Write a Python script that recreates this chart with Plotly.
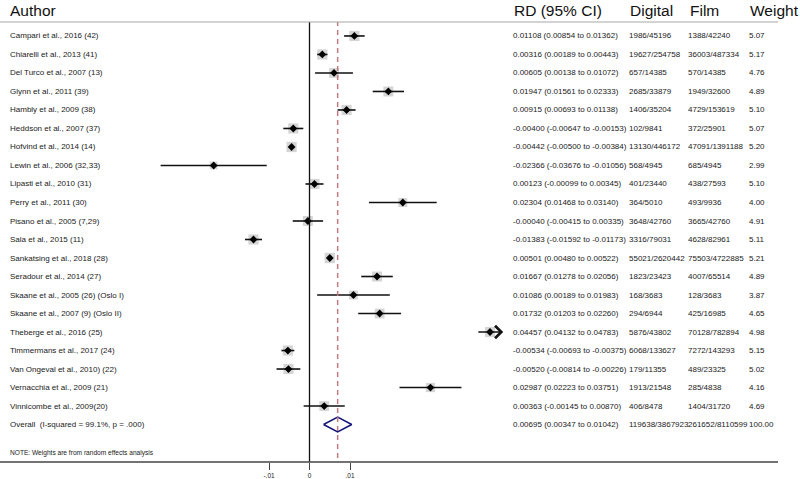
import plotly.graph_objects as go

authors = [
    "Campari et al., 2016 (42)", "Chiarelli et al., 2013 (41)", "Del Turco et al., 2007 (13)",
    "Glynn et al., 2011 (39)", "Hambly et al., 2009 (38)", "Heddson et al., 2007 (37)",
    "Hofvind et al., 2014 (14)", "Lewin et al., 2006 (32,33)", "Lipasti et al., 2010 (31)",
    "Perry et al., 2011 (30)", "Pisano et al., 2005 (7,29)", "Sala et al., 2015 (11)",
    "Sankatsing et al., 2018 (28)", "Seradour et al., 2014 (27)", "Skaane et al., 2005 (26) (Oslo I)",
    "Skaane et al., 2007 (9) (Oslo II)", "Theberge et al., 2016 (25)", "Timmermans et al., 2017 (24)",
    "Van Ongeval et al., 2010) (22)", "Vernacchia et al., 2009 (21)", "Vinnicombe et al., 2009(20)",
]
rd = [0.01108, 0.00316, 0.00605, 0.01947, 0.00915, -0.00400, -0.00442, -0.02366, 0.00123,
      0.02304, -0.00040, -0.01383, 0.00501, 0.01667, 0.01086, 0.01732, 0.04457, -0.00534,
      -0.00520, 0.02987, 0.00363]
lo = [0.00854, 0.00189, 0.00138, 0.01561, 0.00693, -0.00647, -0.00500, -0.03676, -0.00099,
      0.01468, -0.00415, -0.01592, 0.00480, 0.01278, 0.00189, 0.01203, 0.04132, -0.00693,
      -0.00814, 0.02223, -0.00145]
hi = [0.01362, 0.00443, 0.01072, 0.02333, 0.01138, -0.00153, -0.00384, -0.01056, 0.00345,
      0.03140, 0.00335, -0.01173, 0.00522, 0.02056, 0.01983, 0.02260, 0.04783, -0.00375,
      -0.00226, 0.03751, 0.00870]
digital = ["1986/45196", "19627/254758", "657/14385", "2685/33879", "1406/35204", "102/9841",
           "13130/446172", "568/4945", "401/23440", "364/5010", "3648/42760", "3316/79031",
           "55021/2620442", "1823/23423", "168/3683", "294/6944", "5876/43802", "6068/133627",
           "179/11355", "1913/21548", "406/8478"]
film = ["1388/42240", "36003/487334", "570/14385", "1949/32600", "4729/153619", "372/25901",
        "47091/1391188", "685/4945", "438/27593", "493/9936", "3665/42760", "4628/82961",
        "75503/4722885", "4007/65514", "128/3683", "425/16985", "70128/782894", "7272/143293",
        "489/23325", "285/4838", "1404/31720"]
weight = [5.07, 5.17, 4.76, 4.89, 5.10, 5.07, 5.20, 2.99, 5.10, 4.00, 4.91, 5.11, 5.21, 4.89,
          3.87, 4.65, 4.98, 5.15, 5.02, 4.16, 4.69]

overall_label = "Overall  (I-squared = 99.1%, p = .000)"
overall_rd, overall_lo, overall_hi = 0.00695, 0.00347, 0.01042
overall_digital = "119638/3867923"
overall_film = "261652/8110599"
overall_weight = 100.00

headers = ["Author", "RD (95% CI)", "Digital", "Film", "Weight"]
tick_vals = [-0.01, 0, 0.01]
tick_text = ["-.01", "0", ".01"]
note = "NOTE: Weights are from random effects analysis"
clip_hi = 0.045  # CIs beyond this get an arrow

W, H = 800, 479
plot_bottom = 462.5
FONT = "Liberation Sans, Arial, sans-serif"

# x mapping: 0 at px 309.5, 0.01 per 40.5 px
px0, ppu = 309.5, 4050.0
xr = [-px0 / ppu, (W - px0) / ppu]
# y mapping: row 1 at px 36, row 22 at px 425
row_px = (425 - 36) / 21.0
yr = [1 + (plot_bottom - 36) / row_px, 1 - 36 / row_px]

n = len(authors)
rows = list(range(1, n + 1))
ov_row = n + 1

fig = go.Figure()

# boxes
fig.add_trace(go.Scatter(
    x=rd, y=rows, mode="markers",
    marker=dict(symbol="square", size=[4.5 * w ** 0.5 for w in weight], color="#c3c3c3",
                line=dict(width=0)),
    hoverinfo="skip", showlegend=False))

# CI lines
cx, cy = [], []
for r, a, b in zip(rows, lo, hi):
    if b > clip_hi:
        continue
    cx += [a, b, None]
    cy += [r, r, None]
fig.add_trace(go.Scatter(x=cx, y=cy, mode="lines", line=dict(color="#111", width=1.6),
                         hoverinfo="skip", showlegend=False))

# point estimates
fig.add_trace(go.Scatter(
    x=rd, y=rows, mode="markers",
    marker=dict(symbol="diamond", size=6, color="#000"),
    hoverinfo="skip", showlegend=False))

# overall diamond
hh = 0.4
fig.add_trace(go.Scatter(
    x=[overall_lo, overall_rd, overall_hi, overall_rd, overall_lo],
    y=[ov_row, ov_row - hh, ov_row, ov_row + hh, ov_row],
    mode="lines", line=dict(color="#14177a", width=1.6),
    hoverinfo="skip", showlegend=False))

annotations = []
shapes = []

# arrows for clipped CIs
for r, a, b in zip(rows, lo, hi):
    if b > clip_hi:
        annotations.append(dict(x=b, y=r, ax=a, ay=r, xref="x", yref="y", axref="x", ayref="y",
                                showarrow=True, arrowhead=4, arrowsize=1.6, arrowwidth=1.5,
                                arrowcolor="#111", text=""))

# vertical lines
top_line = 1 - 22 / plot_bottom
shapes.append(dict(type="line", xref="x", yref="paper", x0=0, x1=0, y0=0, y1=top_line,
                   line=dict(color="#111", width=1.3)))
shapes.append(dict(type="line", xref="x", yref="paper", x0=overall_rd, x1=overall_rd,
                   y0=4 / plot_bottom, y1=top_line,
                   line=dict(color="#c07a80", width=1.5, dash="5px,4px")))
# header line and bottom axis line
shapes.append(dict(type="line", xref="paper", yref="paper", x0=0, x1=778 / W, y0=top_line,
                   y1=top_line, line=dict(color="#a8a8a8", width=1.2)))
shapes.append(dict(type="line", xref="paper", yref="paper", x0=0, x1=778 / W, y0=0, y1=0,
                   line=dict(color="#444", width=1.3)))

col_x = [8, 511, 627, 686, 747]
head_x = [8, 512, 628, 688, 748]
for hx, ht in zip(head_x, headers):
    annotations.append(dict(x=hx / W, y=1, xref="paper", yref="paper", text=ht,
                            showarrow=False, xanchor="left", yanchor="top",
                            font=dict(family=FONT, size=15.5, color="#111")))


def row_text(r, cols):
    for i, (cxp, t) in enumerate(zip(col_x, cols)):
        annotations.append(dict(x=cxp / W, y=r, xref="paper", yref="y", text=t,
                                showarrow=False, xanchor="left", yanchor="middle",
                                font=dict(family=FONT, size=8, color="#1a1a1a")))


for i in range(n):
    ci = f"{rd[i]:.5f} ({lo[i]:.5f} to {hi[i]:.5f})"
    row_text(rows[i], [authors[i], ci, digital[i], film[i], f"{weight[i]:.2f}"])

row_text(ov_row, [overall_label,
                  f"{overall_rd:.5f} ({overall_lo:.5f} to {overall_hi:.5f})",
                  overall_digital, overall_film, f"{overall_weight:.2f}"])

annotations.append(dict(x=8 / W, y=1 - 453 / plot_bottom, xref="paper", yref="paper", text=note,
                        showarrow=False, xanchor="left", yanchor="middle",
                        font=dict(family=FONT, size=6.6, color="#1a1a1a")))

fig.update_layout(
    width=W, height=H,
    margin=dict(l=0, r=0, t=0, b=H - plot_bottom),
    paper_bgcolor="white", plot_bgcolor="white",
    xaxis=dict(range=xr, showgrid=False, zeroline=False, showline=False,
               tickvals=tick_vals, ticktext=tick_text, ticks="outside", ticklen=7,
               tickwidth=1.2, tickcolor="#444",
               tickfont=dict(family=FONT, size=6.5, color="#222")),
    yaxis=dict(range=yr, showgrid=False, zeroline=False, showline=False,
               showticklabels=False, ticks=""),
    annotations=annotations, shapes=shapes,
)

fig.write_html("out.html", config={"displayModeBar": False},
               post_script="document.body.style.margin='0';")
